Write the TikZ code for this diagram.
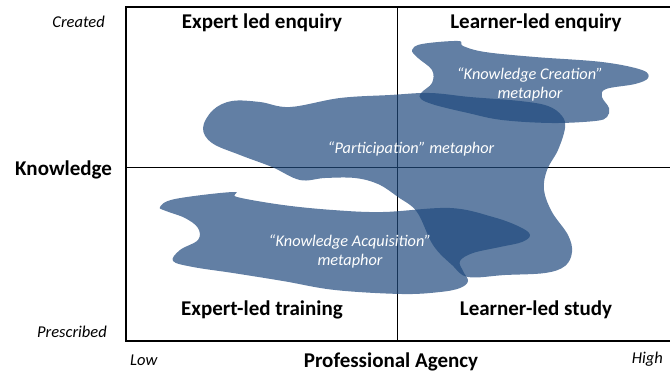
\documentclass[tikz,border=0pt]{standalone}
\usepackage{fontspec}
\setmainfont{Carlito}
\usepackage{tikz}
\usetikzlibrary{calc}
\tikzset{>=latex}
\definecolor{blobblue}{RGB}{31,73,125}
\tikzset{
  quadrant/.style={anchor=base, inner sep=0, font=\fontsize{21}{24}\selectfont\bfseries},
  endlabel/.style={inner sep=0, font=\fontsize{16.5}{19}\selectfont\itshape},
  metaphor/.style={inner sep=0, align=center, text=white, font=\fontsize{16.3}{19}\selectfont\itshape},
  blob/.style={fill=blobblue, fill opacity=0.7, draw=none}
}

\begin{document}
\begin{tikzpicture}[x=1pt, y=-1pt]
\useasboundingbox (0,0) rectangle (670,373);
% frame
\coordinate (tl) at (126,7);
\coordinate (tr) at (670,7);
\coordinate (bl) at (126,341);
\coordinate (br) at (670,341);
\coordinate (ml) at (126,167);
\coordinate (mr) at (670,167);
\coordinate (mt) at (397,7);
\coordinate (mb) at (397,341);
\draw[line width=1.2pt] (tr) -- (tl) -- (bl) -- (br);
\draw[line width=1pt] (ml) -- (mr);
\draw[line width=1pt] (mt) -- (mb);
% blobs
\fill[blob] plot[smooth cycle, tension=0.6] coordinates {(203,128) (213,110) (232,101) (260,102) (290,107) (340,98) (390,95) (430,93) (470,97) (520,101) (548,106) (562,116) (565,128) (558,150) (547,170) (544,190) (552,212) (568,235) (572,252) (565,266) (545,273) (505,275) (468,277) (452,265) (433,245) (417,212) (398,197) (378,184) (355,178) (325,178) (300,180) (272,167) (240,155) (212,143)};
\fill[blob] plot[smooth cycle, tension=0.6] coordinates {(412,50) (422,44) (458,41) (463,46) (485,52) (535,57) (602,62) (642,70) (648,78) (635,84) (606,89) (602,97) (609,108) (607,117) (595,121) (552,123) (502,120) (468,113) (435,105) (421,99) (421,93) (432,83) (432,70) (418,58)};
\fill[blob] plot[smooth cycle, tension=0.6] coordinates {(160,207) (175,199) (233,192) (237,197) (283,205) (333,210) (383,212) (450,208) (493,217) (520,227) (530,235) (522,242) (500,247) (473,253) (460,261) (463,271) (468,281) (460,288) (440,292) (402,294) (335,290) (283,281) (233,273) (193,267) (173,261) (180,250) (198,240) (198,228) (185,218) (166,211)};
% metaphor labels
\node[metaphor] (creation) at (530,84) {``Knowledge Creation''\\metaphor};
\node[metaphor, anchor=base] (participation) at (411,153) {``Participation'' metaphor};
\node[metaphor] (acquisition) at (350,251) {``Knowledge Acquisition''\\metaphor};
% quadrant titles
\node[quadrant] (expenq) at (262,28.5) {Expert led enquiry};
\node[quadrant] (learnenq) at (536,28.5) {Learner-led enquiry};
\node[quadrant] (exptrain) at (262,315) {Expert-led training};
\node[quadrant] (learnstudy) at (536,315) {Learner-led study};
% axes
\node[quadrant, anchor=base west] (knowledge) at (15,175) {Knowledge};
\node[quadrant] (agency) at (391,367) {Professional Agency};
\node[endlabel, anchor=base east] (created) at (105,27) {Created};
\node[endlabel, anchor=base east] (prescribed) at (107,337) {Prescribed};
\node[endlabel, anchor=base west] (low) at (130,365) {Low};
\node[endlabel, anchor=base east] (high) at (663,363) {High};
\end{tikzpicture}
\end{document}
